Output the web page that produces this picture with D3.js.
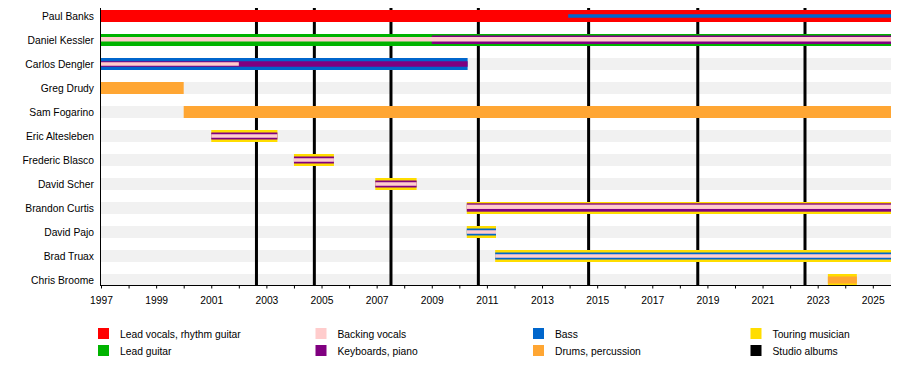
<!DOCTYPE html>
<html><head><meta charset="utf-8">
<script src="https://cdn.jsdelivr.net/npm/d3@7"></script>
<style>body{margin:0;background:#fff}svg{display:block}text{font-family:"Liberation Sans",Arial,sans-serif}</style>
</head><body><svg id="c" width="900" height="365"></svg>
<script>
// ---- data ----
const members = ["Paul Banks","Daniel Kessler","Carlos Dengler","Greg Drudy","Sam Fogarino","Eric Altesleben","Frederic Blasco","David Scher","Brandon Curtis","David Pajo","Brad Truax","Chris Broome"];
const START = 1997, END = 2025.66;
// [member, role, from, till]
const periods = [
  ["Paul Banks","vocals",1997,END],
  ["Paul Banks","bass",2013.95,END],
  ["Daniel Kessler","guitar",1997,END],
  ["Daniel Kessler","keys",2009,END],
  ["Daniel Kessler","bv",1997,END],
  ["Carlos Dengler","bass",1997,2010.3],
  ["Carlos Dengler","keys",1997,2010.3],
  ["Carlos Dengler","bv",1997,2002],
  ["Greg Drudy","drums",1997,2000],
  ["Sam Fogarino","drums",2000,END],
  ["Eric Altesleben","touring",2001,2003.4],
  ["Eric Altesleben","keys",2001,2003.4],
  ["Eric Altesleben","bv",2001,2003.4],
  ["Frederic Blasco","touring",2004,2005.45],
  ["Frederic Blasco","keys",2004,2005.45],
  ["Frederic Blasco","bv",2004,2005.45],
  ["David Scher","touring",2006.95,2008.45],
  ["David Scher","keys",2006.95,2008.45],
  ["David Scher","bv",2006.95,2008.45],
  ["Brandon Curtis","touring",2010.27,END],
  ["Brandon Curtis","keys",2010.27,END],
  ["Brandon Curtis","bv",2010.27,END],
  ["David Pajo","touring",2010.27,2011.33],
  ["David Pajo","bass",2010.27,2011.33],
  ["David Pajo","bv",2010.27,2011.33],
  ["Brad Truax","touring",2011.3,END],
  ["Brad Truax","bass",2011.3,END],
  ["Brad Truax","bv",2011.3,END],
  ["Chris Broome","touring",2023.37,2024.42],
  ["Chris Broome","drums",2023.37,2024.42]
];
const albums = [2002.64, 2004.74, 2007.52, 2010.69, 2014.69, 2018.65, 2022.54];
const tickYears = d3.range(1997, 2026, 1);
const labelYears = d3.range(1997, 2026, 2);
const legendRoles = ["vocals","guitar","bv","keys","bass","drums","touring","albums"];
const legendLabels = ["Lead vocals, rhythm guitar","Lead guitar","Backing vocals","Keyboards, piano","Bass","Drums, percussion","Touring musician","Studio albums"];

// ---- styles ----
const color = {vocals:"#FF0000",guitar:"#00B300",bv:"#FFCCCC",keys:"#800080",bass:"#0066CC",drums:"#FFA633",touring:"#FFDD00",albums:"#000000"};
const tierH = [12, 7, 3.5];
const adjust = {
  "Carlos Dengler|keys": {h:5.5},
  "Daniel Kessler|keys": {h:8.5, dy:-0.25},
  "Daniel Kessler|bv": {h:4.5, dy:-0.75},
  "Brandon Curtis|keys": {h:8.4, dy:-0.5},
  "Brandon Curtis|bv": {h:4.3, dy:-1.2}
};
function tier(m, role, idx){ // first role listed for a member is full height
  if (role === "bv") return 2;
  if (m === "Paul Banks" && role === "bass") return 2;
  return idx === 0 ? 0 : 1;
}

const svg = d3.select("#c");
const x = d3.scaleLinear().domain([START, END]).range([101, 891]);
const y = d3.scalePoint().domain(members).range([16, 280]);

// background rows
svg.append("g").selectAll("rect").data(members).join("rect")
  .attr("x", x(START)).attr("width", x(END) - x(START))
  .attr("y", d => y(d) - 6).attr("height", 12).attr("fill", "#f1f1f1");

// album lines
svg.append("g").selectAll("line").data(albums).join("line")
  .attr("x1", d => x(d)).attr("x2", d => x(d)).attr("y1", 8).attr("y2", 285)
  .attr("stroke", color.albums).attr("stroke-width", 3);

// bars
const firstRole = {};
periods.forEach(p => { if (!(p[0] in firstRole)) firstRole[p[0]] = p[1]; });
const bars = periods.map(p => {
  const t = tier(p[0], p[1], p[1] === firstRole[p[0]] ? 0 : 1);
  const a = adjust[p[0] + "|" + p[1]] || {};
  return {m:p[0], role:p[1], from:p[2], to:p[3], t, h: a.h || tierH[t], dy: a.dy || 0};
}).sort((a,b) => a.t - b.t);
svg.append("g").selectAll("rect").data(bars).join("rect")
  .attr("x", d => x(d.from)).attr("width", d => x(d.to) - x(d.from))
  .attr("y", d => y(d.m) + d.dy - d.h/2).attr("height", d => d.h)
  .attr("fill", d => color[d.role]);

// left axis line
svg.append("line").attr("x1",100.5).attr("x2",100.5).attr("y1",8).attr("y2",286).attr("stroke","#000");

// names
svg.append("g").selectAll("text").data(members).join("text")
  .attr("x", 94).attr("y", d => y(d) + 3.6).attr("text-anchor","end")
  .attr("font-size","10.3px").attr("fill","#000").text(d => d);

// x axis
const axis = d3.axisBottom(x).tickValues(tickYears).tickSize(3).tickFormat(d => labelYears.includes(d) ? d : "");
const ag = svg.append("g").attr("transform","translate(0,285.5)").call(axis);
ag.select(".domain").attr("d", `M100,0H891`).attr("stroke","#000");
ag.selectAll(".tick line").attr("stroke","#000");
ag.selectAll(".tick text").attr("font-size","10.3px").attr("font-family","Liberation Sans, Arial, sans-serif").attr("fill","#000").attr("y",18).attr("dy","0");

// legend
const lg = svg.append("g").selectAll("g").data(legendRoles).join("g")
  .attr("transform", (d,i) => `translate(${98 + Math.floor(i/2)*217.5},${328 + (i%2)*17})`);
lg.append("rect").attr("width",11).attr("height",11).attr("fill", d => color[d]);
lg.append("text").attr("x",22).attr("y",9.5).attr("font-size","10.3px").attr("fill","#000")
  .text((d,i) => legendLabels[i]);
</script></body></html>
